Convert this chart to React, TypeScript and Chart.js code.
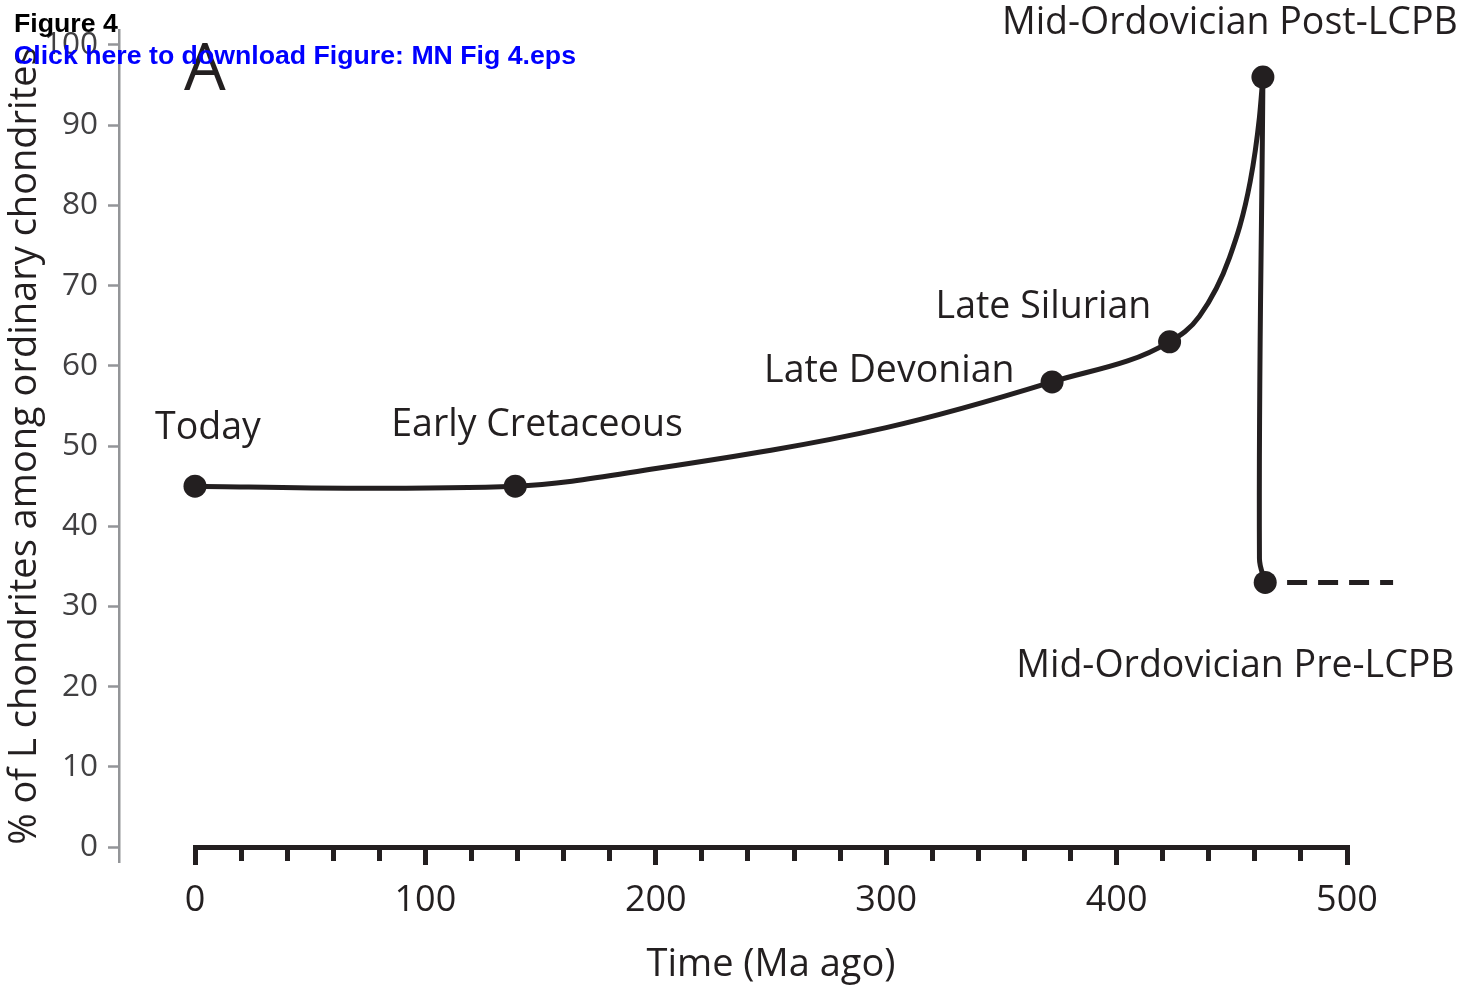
import React, { useEffect, useRef } from "react";
import { Chart, registerables } from "chart.js";

Chart.register(...registerables);

// ---- data ----
const EVENT_NAMES = [
  "Today",
  "Early Cretaceous",
  "Late Devonian",
  "Late Silurian",
  "Mid-Ordovician Post-LCPB",
  "Mid-Ordovician Pre-LCPB",
];
const EVENT_AGES = [0, 139, 372, 423, 463.5, 464.5];
const EVENT_PERCENT = [45, 45, 58, 63, 96, 33];

// smooth trend drawn through the events
const TREND_AGES = [0, 70, 139, 200, 300, 372, 423, 436, 449, 458, 462, 463.5];
const TREND_PERCENT = [45, 44.75, 45, 47.2, 52.3, 58, 63, 66.2, 73.5, 83, 91, 96];

// sharp drop back to the pre-LCPB level
const DROP_AGES = [463.5, 462, 464.5];
const DROP_PERCENT = [96, 36, 33];

// dashed continuation of the pre-LCPB level
const EXTENSION_AGES = [474, 520];
const EXTENSION_PERCENT = [33, 33];

const X_TICK_LABELS = ["0", "100", "200", "300", "400", "500"];
const Y_TICK_LABELS = ["0", "10", "20", "30", "40", "50", "60", "70", "80", "90", "100"];

const X_TITLE = "Time (Ma ago)";
const Y_TITLE = "% of L chondrites among ordinary chondrites";
const PANEL_LETTER = "A";

// ---- styling ----
const INK = "#231f20";
const GREY_TEXT = "#414042";
const GREY_AXIS = "#939598";
const FONT = "'Open Sans', 'Noto Sans', sans-serif";
const LABEL_OFFSETS: [number, number][] = [
  [-40, -47],
  [-124, -50],
  [-288, 0],
  [-234, -24],
  [-261, -43],
  [-249, 95],
];

const toPoints = (xs: number[], ys: number[]) => xs.map((x, i) => ({ x, y: ys[i] }));

const labelPlugin = {
  id: "eventLabels",
  afterDatasetsDraw(chart: any) {
    const ctx = chart.ctx;
    const meta = chart.getDatasetMeta(0);
    ctx.save();
    ctx.fillStyle = INK;
    ctx.font = `37.5px ${FONT}`;
    ctx.textAlign = "left";
    ctx.textBaseline = "alphabetic";
    meta.data.forEach((el: any, i: number) => {
      const [dx, dy] = LABEL_OFFSETS[i];
      ctx.fillText(EVENT_NAMES[i], el.x + dx, el.y + dy);
    });
    ctx.font = `66px ${FONT}`;
    ctx.fillText(PANEL_LETTER, chart.chartArea.left - 11, chart.chartArea.top + 60);
    ctx.restore();
  },
};

export default function App() {
  const ref = useRef<HTMLCanvasElement | null>(null);

  useEffect(() => {
    if (!ref.current) return;
    const chart = new Chart(ref.current, {
      type: "line",
      data: {
        datasets: [
          {
            label: "events",
            data: toPoints(EVENT_AGES, EVENT_PERCENT),
            showLine: false,
            pointRadius: 11.5,
            pointBackgroundColor: INK,
            pointBorderColor: INK,
            pointBorderWidth: 0,
            xAxisID: "x",
            yAxisID: "y",
            clip: false,
          },
          {
            label: "trend",
            data: toPoints(TREND_AGES, TREND_PERCENT),
            borderColor: INK,
            borderWidth: 5,
            pointRadius: 0,
            cubicInterpolationMode: "monotone",
            borderCapStyle: "round",
            borderJoinStyle: "round",
            xAxisID: "x",
            yAxisID: "y",
            clip: false,
          },
          {
            label: "drop",
            data: toPoints(DROP_AGES, DROP_PERCENT),
            borderColor: INK,
            borderWidth: 5,
            pointRadius: 0,
            tension: 0.4,
            borderCapStyle: "round",
            xAxisID: "x",
            yAxisID: "y",
            clip: false,
          },
          {
            label: "extension",
            data: toPoints(EXTENSION_AGES, EXTENSION_PERCENT),
            borderColor: INK,
            borderWidth: 5,
            borderDash: [20, 11],
            pointRadius: 0,
            tension: 0,
            xAxisID: "x",
            yAxisID: "y",
            clip: false,
          },
        ],
      },
      options: {
        responsive: false,
        animation: false,
        devicePixelRatio: 1,
        layout: { padding: { left: 0, right: 116, top: 30, bottom: 0 } },
        scales: {
          x: {
            type: "linear",
            axis: "x",
            position: { y: 0 } as any,
            min: 0,
            max: 500,
            grid: {
              drawOnChartArea: false,
              drawTicks: true,
              tickLength: 15,
              tickWidth: 5,
              lineWidth: 5,
              tickColor: INK,
              color: INK,
              tickBorderDash: (c: any) =>
                c.tick && c.tick.value % 100 === 0 ? [] : [11, 100],
            } as any,
            border: { display: true, color: INK, width: 5 },
            ticks: {
              stepSize: 20,
              autoSkip: false,
              maxRotation: 0,
              padding: 17,
              color: INK,
              font: { family: FONT, size: 36 },
              callback: (v: any) => (Number(v) % 100 === 0 ? X_TICK_LABELS[Number(v) / 100] : ""),
            },
          },
          y: {
            type: "linear",
            axis: "y",
            position: "left",
            min: -1.87,
            max: 101.87,
            grid: { display: false, drawTicks: false },
            border: { display: false },
            ticks: {
              stepSize: 10,
              includeBounds: false,
              padding: 97,
              color: GREY_TEXT,
              font: { family: FONT, size: 31.5 },
              callback: (v: any) => Y_TICK_LABELS[Math.round(Number(v) / 10)] ?? "",
            },
            title: {
              display: true,
              text: Y_TITLE,
              color: INK,
              font: { family: FONT, size: 38 },
              padding: { top: 2, bottom: 0 },
            },
            afterFit: (s: any) => {
              s.width = 195;
              s.paddingTop = 0;
              s.paddingBottom = 0;
            },
          } as any,
          yLine: {
            type: "linear",
            axis: "y",
            position: { x: -33 } as any,
            min: -1.87,
            max: 101.87,
            grid: {
              drawOnChartArea: false,
              drawTicks: true,
              tickLength: 10,
              tickWidth: 2.5,
              tickColor: GREY_AXIS,
            },
            border: { display: true, color: GREY_AXIS, width: 2.5 },
            ticks: { display: false, stepSize: 10, includeBounds: false },
          } as any,
        },
        plugins: {
          legend: { display: false },
          tooltip: { enabled: false },
          title: {
            display: true,
            text: X_TITLE,
            position: "bottom",
            fullSize: false,
            color: INK,
            font: { family: FONT, size: 38, weight: "normal", lineHeight: 1.1 },
            padding: { top: 82, bottom: 0.1 },
          } as any,
        },
      },
      plugins: [labelPlugin],
    } as any);
    return () => chart.destroy();
  }, []);

  const headerFont = "bold 26.7px 'Liberation Sans', Arial, Helvetica, sans-serif";
  return (
    <div style={{ position: "absolute", left: 0, top: 0, width: 1463, height: 986, background: "#fff" }}>
      <canvas ref={ref} width={1463} height={986} style={{ position: "absolute", left: 0, top: 0 }} />
      <div style={{ position: "absolute", left: 14, top: 10, font: headerFont, lineHeight: "26px", color: "#000", whiteSpace: "nowrap" }}>
        Figure 4
      </div>
      <div style={{ position: "absolute", left: 14, top: 42, font: headerFont, lineHeight: "26px", color: "#0000ff", whiteSpace: "nowrap" }}>
        Click here to download Figure: MN Fig 4.eps
      </div>
    </div>
  );
}
